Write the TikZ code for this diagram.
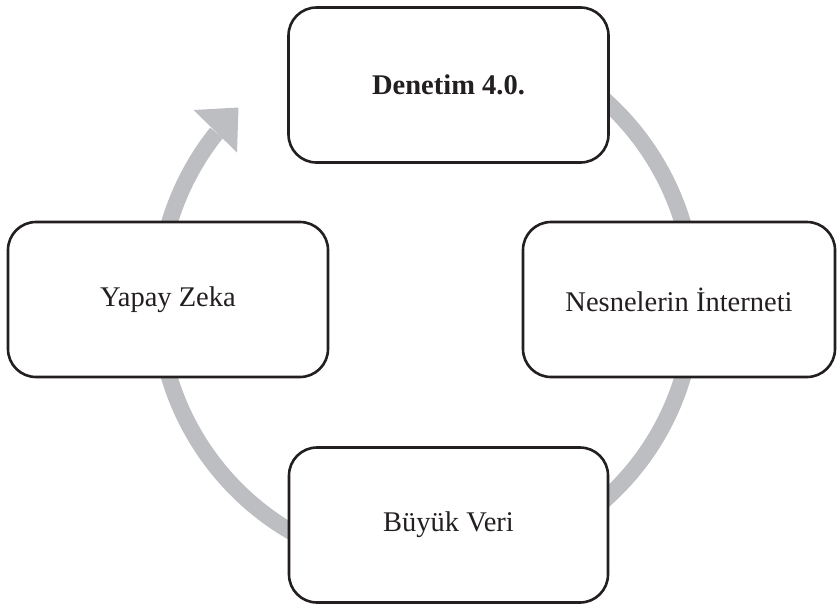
\documentclass[tikz,border=0pt]{standalone}
\usepackage{fontspec}
\setmainfont{Liberation Serif}
\definecolor{arcgray}{RGB}{189,190,193}
\definecolor{boxline}{RGB}{35,31,32}
\begin{document}
\begin{tikzpicture}[x=1pt,y=-1pt,
  cyclebox/.style={draw=boxline, line width=2.6pt, rounded corners=28pt, fill=white,
    minimum width=#1, minimum height=155pt, inner sep=0pt, align=center,
    font=\fontsize{28.5}{34}\selectfont, text=boxline},
  cyclebox/.default=320pt,
  ring/.style={draw=arcgray, line width=16.5pt}]
\useasboundingbox (0,0) rectangle (837,608);
\coordinate (c) at (426,300);
% circular arrow (behind the boxes)
\draw[ring] ([shift={(-80:268)}]c) arc[start angle=-80, end angle=218.6, radius=268];
\fill[arcgray] (193.5,110) -- (238.5,107.5) -- (237,152.5) -- cycle;
% boxes
\node[cyclebox] (top) at (448.5,85) {\textbf{Denetim 4.0.}};
\node[cyclebox=312pt] (right) at (679,299.5) {Nesnelerin İnterneti};
\node[cyclebox=319pt] (bottom) at (448.5,525) {Büyük Veri};
\node[cyclebox] (left) at (168,299.5) {Yapay Zeka};
\end{tikzpicture}
\end{document}
